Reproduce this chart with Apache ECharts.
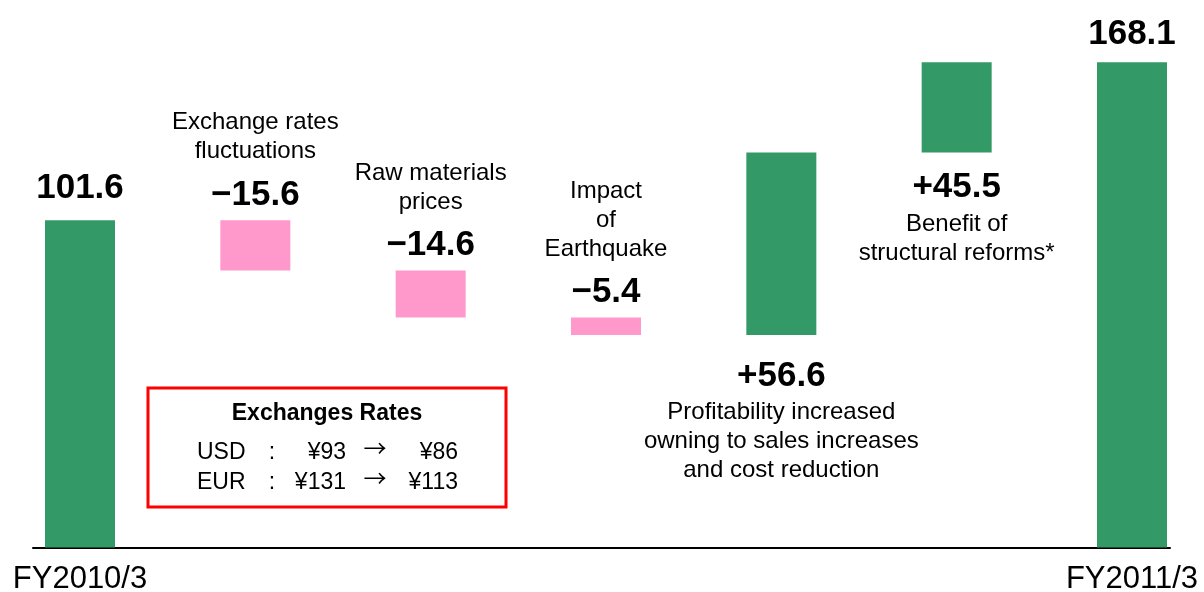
<!DOCTYPE html>
<html>
<head>
  <meta charset="utf-8">
  <title>Operating income change FY2010/3 - FY2011/3</title>
  <script src="https://cdn.jsdelivr.net/npm/echarts@6/dist/echarts.min.js"></script>
  <style>html, body { margin: 0; background: #fff; }</style>
</head>
<body>
  <div id="main" style="width: 1204px; height: 592px;"></div>
  <script type="text/javascript">
    // values (billion yen)
    var periods = ['FY2010/3', 'FY2011/3'];
    var startValue = 101.6;
    var endValue = 168.1;
    var stepNames = [
      'Exchange rates\nfluctuations',
      'Raw materials\nprices',
      'Impact\nof\nEarthquake',
      'Profitability increased\nowning to sales increases\nand cost reduction',
      'Benefit of\nstructural reforms*'
    ];
    var stepValues = [-15.6, -14.6, -5.4, 56.6, 45.5];

    // exchange rate box
    var rateTitle = 'Exchanges Rates';
    var rateCurrencies = ['USD', 'EUR'];
    var ratesFrom = ['¥93', '¥131'];
    var ratesTo = ['¥86', '¥113'];

    var GREEN = '#339966';
    var PINK = '#ff99cc';
    var NUM_FONT = "'Liberation Sans', Arial, sans-serif";
    var TXT_FONT = "'Liberation Sans', Arial, sans-serif";

    // build waterfall: invisible base + visible bar
    var categories = [periods[0]].concat(stepNames, [periods[1]]);
    var base = [0], height = [startValue], texts = [], colors = [GREEN];
    texts.push('{n|' + startValue.toFixed(1) + '}');
    var total = startValue;
    stepValues.forEach(function (v, i) {
      var next = total + v;
      base.push(Math.min(total, next));
      height.push(Math.abs(v));
      var num = '{n|' + (v < 0 ? '\u2212' : '+') + Math.abs(v).toFixed(1) + '}';
      var note = '{d|' + stepNames[i].split('\n').join('}\n{d|') + '}';
      texts.push(v < 0 ? note + '\n' + num : num + '\n' + note);
      colors.push(v < 0 ? PINK : GREEN);
      total = next;
    });
    base.push(0); height.push(endValue);
    texts.push('{n|' + endValue.toFixed(1) + '}'); colors.push(GREEN);

    // label placement per bar
    var labelPos = ['top', 'top', 'top', 'top', 'bottom', 'bottom', 'top'];
    var labelDist = [10, -4, -4, -4, 19, 13, 6];

    var myChart = echarts.init(document.getElementById('main'));

    var graphics = [{
      type: 'rect',
      shape: { x: 148, y: 388, width: 358, height: 119 },
      style: { fill: '#fff', stroke: '#ff0000', lineWidth: 3 },
      z: 10
    }, {
      type: 'text',
      x: 327, y: 414,
      style: { text: rateTitle, font: 'bold 23px ' + TXT_FONT, fill: '#000', align: 'center', verticalAlign: 'middle' },
      z: 11
    }];
    rateCurrencies.forEach(function (c, i) {
      var y = 453 + i * 30;
      var cells = [
        { t: c, x: 197, a: 'left', f: TXT_FONT, dy: 0 },
        { t: ':', x: 272, a: 'center', f: TXT_FONT, dy: 0 },
        { t: ratesFrom[i], x: 346, a: 'right', f: TXT_FONT, dy: 0 },
        { t: '\u2192', x: 375, a: 'center', f: "'Noto Sans CJK JP', sans-serif", dy: -5 },
        { t: ratesTo[i], x: 458, a: 'right', f: TXT_FONT, dy: 0 }
      ];
      cells.forEach(function (cell) {
        graphics.push({
          type: 'text', x: cell.x, y: y + cell.dy, z: 11,
          style: { text: cell.t, font: '23px ' + cell.f, fill: '#000', align: cell.a, verticalAlign: 'middle' }
        });
      });
    });

    myChart.setOption({
      animation: false,
      backgroundColor: '#fff',
      grid: [
        { left: 80, right: 72, top: 24, bottom: 44.5, outerBoundsMode: 'none' },
        { left: 33, right: 34, top: 24, bottom: 44.5, outerBoundsMode: 'none' }
      ],
      xAxis: [{
        type: 'category',
        data: categories,
        boundaryGap: false,
        axisLine: { show: false },
        axisTick: { show: false },
        splitLine: { show: false },
        axisLabel: {
          interval: 0,
          formatter: function (v, i) { return (i === 0 || i === categories.length - 1) ? v : ''; },
          color: '#000',
          fontFamily: TXT_FONT,
          fontSize: 31,
          margin: 16
        }
      }, {
        gridIndex: 1,
        type: 'value',
        min: 0,
        max: 1,
        axisLine: { show: true, lineStyle: { color: '#000', width: 2 } },
        axisTick: { show: false },
        axisLabel: { show: false },
        splitLine: { show: false }
      }],
      yAxis: [{
        type: 'value',
        show: false,
        min: 0,
        max: 180,
        splitLine: { show: false },
        breaks: [{ start: 128, end: 145.5, gap: 0 }],
        breakArea: { show: false }
      }, {
        gridIndex: 1,
        type: 'value',
        show: false,
        min: 0,
        max: 1
      }],
      series: [{
        name: 'base',
        type: 'bar',
        stack: 'w',
        barWidth: 70,
        silent: true,
        itemStyle: { color: 'transparent' },
        data: base
      }, {
        name: 'change',
        type: 'bar',
        stack: 'w',
        barWidth: 70,
        data: height.map(function (d, i) {
          return {
            value: d,
            itemStyle: { color: colors[i] },
            label: {
              show: true,
              position: labelPos[i],
              distance: labelDist[i],
              formatter: texts[i],
              align: 'center',
              color: '#000',
              rich: {
                n: { fontFamily: NUM_FONT, fontWeight: 'bold', fontSize: 35, lineHeight: (i === 0 || i === 6 || labelPos[i] === 'bottom') ? 44 : 58, color: '#000' },
                d: { fontFamily: TXT_FONT, fontSize: 24, lineHeight: 29, color: '#000' }
              }
            }
          };
        })
      }],
      graphic: graphics
    });
  </script>
</body>
</html>
